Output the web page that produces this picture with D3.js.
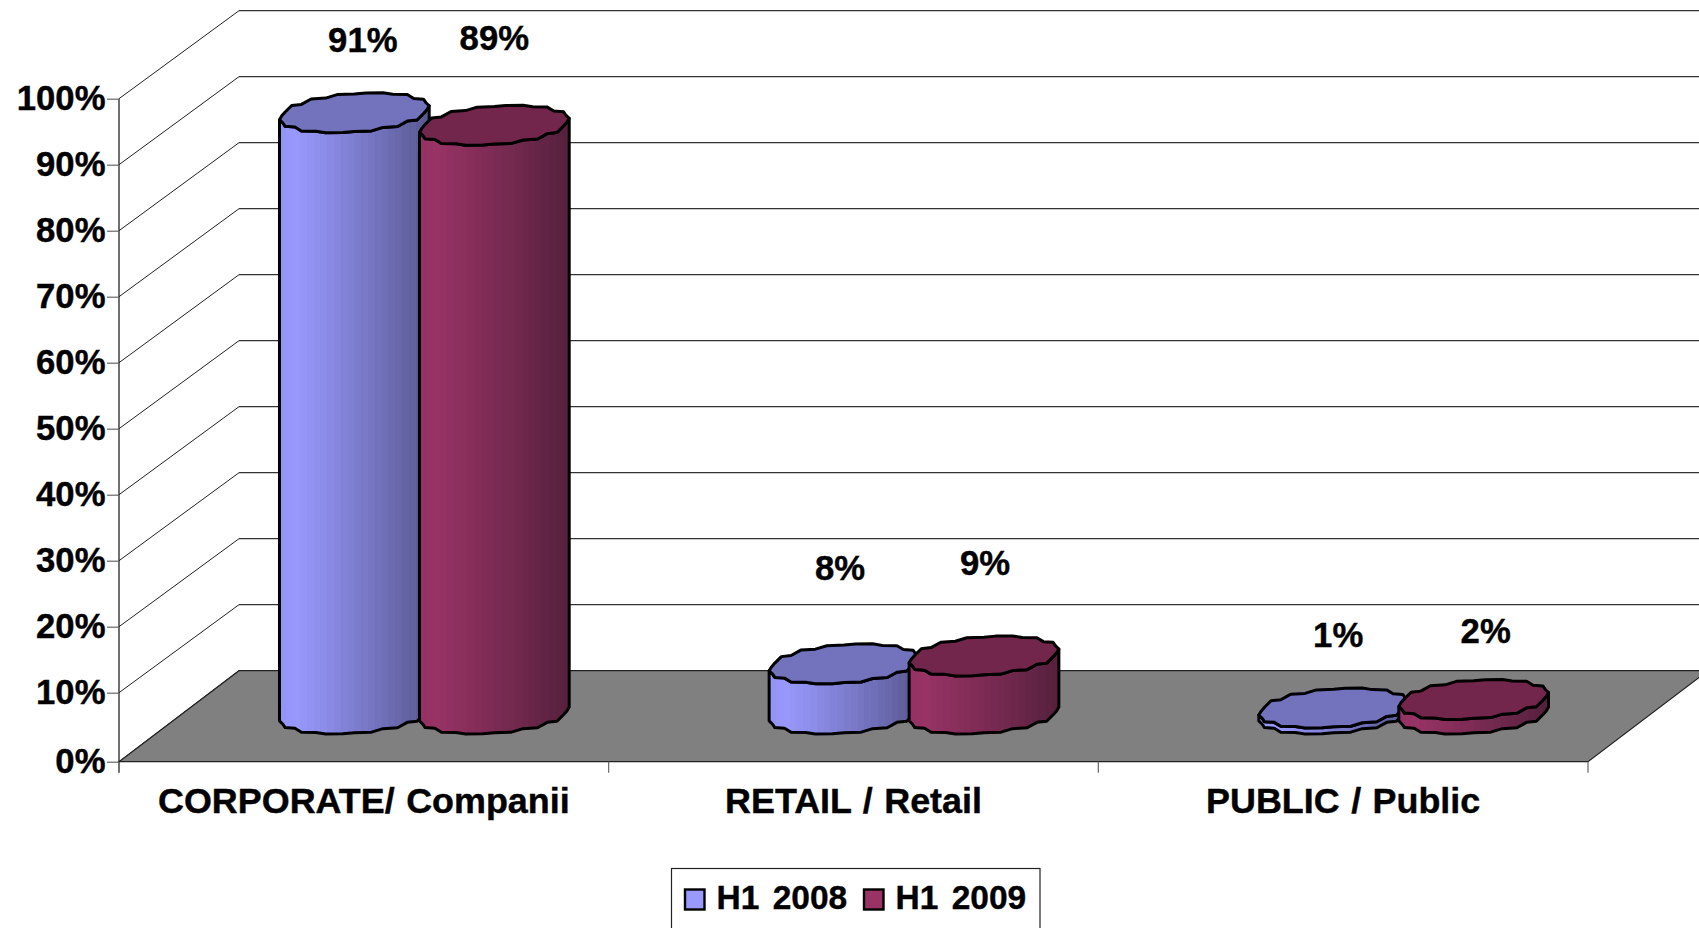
<!DOCTYPE html>
<html><head><meta charset="utf-8">
<script src="https://cdn.jsdelivr.net/npm/d3@7/dist/d3.min.js"></script>
<style>html,body{margin:0;padding:0;background:#fff;overflow:hidden}
svg{display:block}
text{font-family:"Liberation Sans",Arial,sans-serif;font-weight:700;fill:#000;stroke:#000;stroke-width:0.4px}
</style></head><body>
<svg id="c" width="1699" height="928"></svg>
<script>
// ---- data ----
const categories = ["CORPORATE/ Companii", "RETAIL / Retail", "PUBLIC / Public"];
const seriesNames = ["H1 2008", "H1 2009"];
const h12008 = [91.1, 7.6, 0.9];
const h12009 = [89.2, 8.8, 2.2];
const yTicks = [0,10,20,30,40,50,60,70,80,90,100];

// ---- layout ----
const W=1699,H=928;
const svg=d3.select("#c");
const x0=119,x1=1588,depthX=120;
const y=d3.scaleLinear().domain([0,10,100]).range([761.7,692.7,98.7]);
const yBack=d3.scaleLinear().domain([0,100]).range([670.7,10.7]);
const barH=d3.scaleLinear().domain([0,100]).range([0,660]);
const xCat=d3.scaleBand().domain(categories).range([x0,x1]);
const seriesOffset=d3.scalePoint().domain(seriesNames).range([-70,70]);
const baseY=714, shiftX=60.5;
const R=70.2,a=26,b=20;
const colors={side:{[seriesNames[0]]:"#9999ff",[seriesNames[1]]:"#993366"}};
// label placement relative to the top of each column: [dx, dy] per series per category
const labelNudge=[[[8.5,-61],[0,-75]],[[-4,-84],[1,-81]],[[4.5,-61],[12,-56]]];

// ---- walls ----
const grid=svg.append("g");
yTicks.forEach(t=>{
  grid.append("line").attr("x1",x0+depthX).attr("x2",W).attr("y1",yBack(t)).attr("y2",yBack(t))
    .attr("stroke","#333").attr("stroke-width",1.2);
  grid.append("line").attr("x1",x0).attr("x2",x0+depthX).attr("y1",y(t)).attr("y2",yBack(t))
    .attr("stroke","#222").attr("stroke-width",1);
});
// floor
svg.append("path").attr("d",d3.line()([[x0,y(0)],[x0+depthX,yBack(0)],[x1+depthX,yBack(0)],[x1,y(0)]])+"Z")
  .attr("fill","#808080").attr("stroke","#222").attr("stroke-width",1.2);

// ---- axes ----
const yAxis=d3.axisLeft(y).tickValues(yTicks).tickFormat(d=>d+"%").tickSize(12).tickPadding(1.5);
const gy=svg.append("g").attr("transform",`translate(${x0},0)`).call(yAxis);
gy.select(".domain").attr("d",`M0,${y(100)}V${y(0)+11}`).attr("stroke","#111").attr("stroke-width",1.2);
gy.selectAll(".tick line").attr("stroke","#666").attr("stroke-width",1.2);
gy.selectAll("text").style("font-size","34.7px").attr("dy","0.3em").attr("fill","#000");

const xAxis=d3.axisBottom(xCat).tickSize(0).tickPadding(0);
const gx=svg.append("g").attr("transform",`translate(0,${y(0)})`).call(xAxis);
gx.select(".domain").remove();
gx.selectAll("text").style("font-size","35.9px").style("word-spacing","1.5px").attr("y",51.5).attr("dy",0).attr("fill","#000");
svg.selectAll(".catTick").data(d3.range(1,categories.length+1)).enter().append("line")
  .attr("x1",i=>xCat.range()[0]+i*xCat.step()).attr("x2",i=>xCat.range()[0]+i*xCat.step())
  .attr("y1",y(0)).attr("y2",y(0)+11).attr("stroke","#666").attr("stroke-width",1.2);

// ---- gradient with facet steps ----
const defs=svg.append("defs");
function faceted(id,light,dark){
  const g=defs.append("linearGradient").attr("id",id).attr("x1",0).attr("x2",1).attr("y1",0).attr("y2",0);
  const n=22;
  const mix=d3.interpolateRgb(light,dark);
  d3.range(n).forEach(i=>{
    const u=(i+0.5)/n;
    const tone=u<0.08?0.1-u:Math.pow((u-0.08)/0.92,1.1);
    const c=mix(tone);
    g.append("stop").attr("offset",i/n).attr("stop-color",c);
    g.append("stop").attr("offset",(i+1)/n).attr("stop-color",c);
  });
}
faceted("gA","#9999ff","#585890");
faceted("gB","#993366","#55203c");
const gradId={[seriesNames[0]]:"gA",[seriesNames[1]]:"gB"};
const topFill={[seriesNames[0]]:"#7272bd",[seriesNames[1]]:"#72264c"};

// ---- faceted cylinder geometry: a scalloped outline, flat run then short slope ----
const t0=Math.atan2(a,R), N=8;
function pt(t,cx,cy){
  return [cx+R*Math.cos(t)+a*Math.sin(t), cy-b*Math.sin(t)];
}
function scallop(pts){
  const out=[];
  pts.forEach((p,i)=>{
    out.push(p);
    const q=pts[i+1];
    if(q){
      const yHold=Math.abs(q[1]-p[1])>Math.abs(q[0]-p[0])*0.6 ? p[1]+(q[1]-p[1])*0.5 : p[1]+(q[1]-p[1])*0.15;
      out.push([p[0]+(q[0]-p[0])*0.6,yHold]);
    }
  });
  return out;
}
const lower=(cx,cy)=>scallop(d3.range(N+1).map(i=>pt(t0+Math.PI+Math.PI*i/N,cx,cy)));
const upper=(cx,cy)=>scallop(d3.range(N+1).map(i=>pt(t0+Math.PI*i/N,cx,cy)));

const rows=[];
categories.forEach((c,ci)=>{
  [h12008,h12009].forEach((arr,si)=>{
    rows.push({cat:c,ci,si,name:seriesNames[si],v:arr[ci]});
  });
});
const line=d3.line();
const cyl=svg.selectAll(".cyl").data(rows).enter().append("g").attr("class","cyl");
cyl.each(function(d){
  const g=d3.select(this);
  const cx=xCat(d.cat)+xCat.bandwidth()/2+shiftX+seriesOffset(d.name);
  const topY=baseY-barH(d.v);
  d.cx=cx;d.topY=topY;
  const lowTop=lower(cx,topY), lowBot=lower(cx,baseY);
  g.append("path").attr("d",line(lowTop.concat(lowBot.slice().reverse()))+"Z")
    .attr("fill",`url(#${gradId[d.name]})`).attr("stroke","#000").attr("stroke-width",3).attr("stroke-linejoin","round");
  g.append("path").attr("d",line(upper(cx,topY).concat(lowTop))+"Z")
    .attr("fill",topFill[d.name]).attr("stroke","#000").attr("stroke-width",3).attr("stroke-linejoin","round");
});
// ---- value labels ----
const pct=d3.format(".0f");
svg.selectAll(".val").data(rows).enter().append("text").attr("class","val")
  .attr("text-anchor","middle").style("font-size","34.7px")
  .attr("x",d=>d.cx+labelNudge[d.ci][d.si][0])
  .attr("y",d=>d.topY+labelNudge[d.ci][d.si][1])
  .text(d=>pct(d.v)+"%");

// ---- legend ----
const lg=svg.append("g");
lg.append("rect").attr("x",671.5).attr("y",868.5).attr("width",368.5).attr("height",80)
  .attr("fill","#fff").attr("stroke","#222").attr("stroke-width",1.2);
const legendX=d3.scalePoint().domain(seriesNames).range([685,864]);
seriesNames.forEach(n=>{
  lg.append("rect").attr("x",legendX(n)).attr("y",889.5).attr("width",19.5).attr("height",20)
    .attr("fill",colors.side[n]).attr("stroke","#000").attr("stroke-width",2.4);
  lg.append("text").attr("x",legendX(n)+31.5).attr("y",908.5).style("font-size","33.5px").style("word-spacing","4px").text(n);
});
</script></body></html>
